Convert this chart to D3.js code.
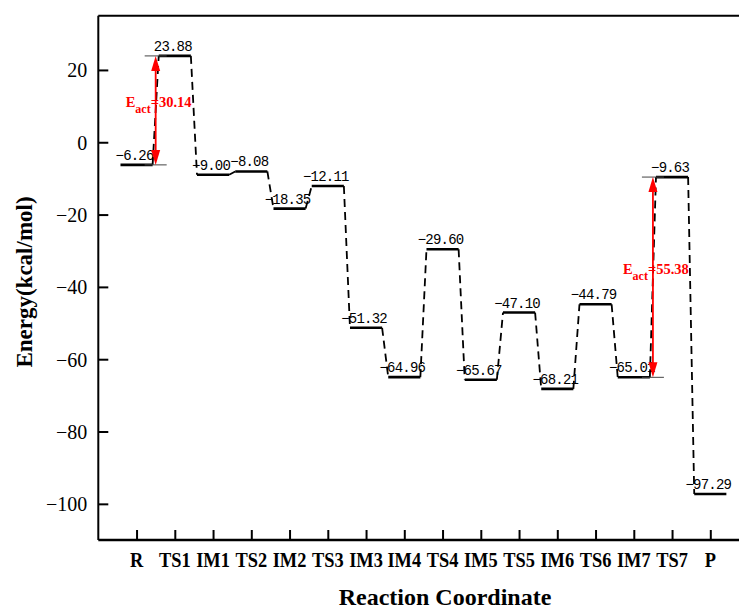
<!DOCTYPE html>
<html>
<head>
<meta charset="utf-8">
<script src="https://cdn.jsdelivr.net/npm/d3@7"></script>
<style>
    body { margin: 0; background: #fff; }
    svg { display: block; }
</style>
</head>
<body>
<div id="viz"></div>
<script>
/*##############################
#       Chart data             #
###############################*/
var states = ["R", "TS1", "IM1", "TS2", "IM2", "TS3", "IM3", "IM4", "TS4", "IM5", "TS5", "IM6", "TS6", "IM7", "TS7", "P"];
var energies = [-6.26, 23.88, -9.00, -8.08, -18.35, -12.11, -51.32, -64.96, -29.60, -65.67, -47.10, -68.21, -44.79, -65.01, -9.63, -97.29];
var energyLabels = ["\u22126.26", "23.88", "\u22129.00", "\u22128.08", "\u221218.35", "\u221212.11", "\u221251.32", "\u221264.96",
                    "\u221229.60", "\u221265.67", "\u221247.10", "\u221268.21", "\u221244.79", "\u221265.01", "\u22129.63", "\u221297.29"];
var yTicks = [-100, -80, -60, -40, -20, 0, 20];

// activation barriers: from state -> to state
var barrierFrom = ["R", "IM7"];
var barrierTo = ["TS1", "TS7"];
var barrierValues = ["30.14", "55.38"];

/*##############################
#       Drawing                #
###############################*/
var width = 739, height = 610;
var plotLeft = 98.3, plotTop = 15.7, plotBottom = 540;
var halfLevel = 0.42;   // half width of a level bar, in state units

var svg = d3.select("#viz").append("svg")
    .attr("width", width)
    .attr("height", height)
    .style("background-color", "#fff");

var x = d3.scaleLinear()
    .domain([-1, 16])
    .range([plotLeft, plotLeft + 17 * 38.25]);

var y = d3.scaleLinear()
    .domain([-110, 35])
    .range([plotBottom, plotTop]);

// frame: top line (right side runs off the picture)
svg.append("line")
    .attr("x1", plotLeft).attr("x2", width)
    .attr("y1", y(35)).attr("y2", y(35))
    .attr("stroke", "#000").attr("stroke-width", 2);

// Y axis
var yAxis = svg.append("g")
    .attr("transform", "translate(" + plotLeft + ",0)")
    .call(d3.axisLeft(y).tickValues(yTicks).tickSizeInner(-10).tickSizeOuter(0)
        .tickFormat(function (d) { return d < 0 ? "\u2212" + Math.abs(d) : d; }));
yAxis.select(".domain").attr("stroke-width", 2).attr("d", "M0," + plotTop + "V" + plotBottom);
yAxis.selectAll(".tick line").attr("stroke-width", 2);
yAxis.selectAll(".tick text")
    .attr("x", -11)
    .attr("dy", "0.34em")
    .attr("font-family", "'Liberation Serif', 'Times New Roman', serif")
    .attr("font-size", "20px")
    .attr("fill", "#000");

// X axis
var xAxis = svg.append("g")
    .attr("transform", "translate(0," + plotBottom + ")")
    .call(d3.axisBottom(x).tickValues(d3.range(states.length)).tickSizeInner(-10).tickSizeOuter(0)
        .tickFormat(function (d) { return ""; }));
xAxis.select(".domain").attr("stroke-width", 2.5).attr("d", "M" + plotLeft + ",0H" + width);
xAxis.selectAll(".tick line").attr("stroke-width", 2);

svg.append("g").selectAll("text")
    .data(states)
    .enter()
    .append("text")
        .attr("transform", function (d, i) { return "translate(" + x(i) + ",567) scale(0.92,1)"; })
        .attr("text-anchor", "middle")
        .attr("font-family", "'Liberation Serif', 'Times New Roman', serif")
        .attr("font-weight", "bold")
        .attr("font-size", "20px")
        .text(function (d) { return d; });

// axis titles
svg.append("text")
    .attr("x", 445).attr("y", 605)
    .attr("text-anchor", "middle")
    .attr("font-family", "'Liberation Serif', 'Times New Roman', serif")
    .attr("font-weight", "bold")
    .attr("font-size", "24px")
    .text("Reaction Coordinate");

svg.append("text")
    .attr("transform", "translate(32,282) rotate(-90)")
    .attr("text-anchor", "middle")
    .attr("font-family", "'Liberation Serif', 'Times New Roman', serif")
    .attr("font-weight", "bold")
    .attr("font-size", "23px")
    .text("Energy(kcal/mol)");

// dashed connectors between levels
var links = d3.range(states.length - 1);
svg.append("g").selectAll("line")
    .data(links)
    .enter()
    .append("line")
        .attr("x1", function (i) { return x(i + halfLevel); })
        .attr("y1", function (i) { return y(energies[i]); })
        .attr("x2", function (i) { return x(i + 1 - halfLevel); })
        .attr("y2", function (i) { return y(energies[i + 1]); })
        .attr("stroke", "#000")
        .attr("stroke-width", 1.8)
        .attr("stroke-dasharray", "8,5");

// energy levels
svg.append("g").selectAll("line")
    .data(energies)
    .enter()
    .append("line")
        .attr("x1", function (d, i) { return x(i - halfLevel); })
        .attr("x2", function (d, i) { return x(i + halfLevel); })
        .attr("y1", function (d) { return y(d); })
        .attr("y2", function (d) { return y(d); })
        .attr("stroke", "#000")
        .attr("stroke-width", 2.6);

// value labels
svg.append("g").selectAll("text")
    .data(energyLabels)
    .enter()
    .append("text")
        .attr("x", function (d, i) { return x(i) - 2; })
        .attr("y", function (d, i) { return y(energies[i]) - 5; })
        .attr("text-anchor", "middle")
        .attr("font-family", "'Liberation Mono', 'Courier New', monospace")
        .attr("font-size", "14px")
        .attr("letter-spacing", "-0.8px")
        .attr("fill", "#000")
        .text(function (d) { return d; });

/*##############################
#       Activation arrows      #
###############################*/
barrierFrom.forEach(function (from, k) {
    var i0 = states.indexOf(from);
    var i1 = states.indexOf(barrierTo[k]);
    var ax = x((i0 + i1) / 2);
    var yLow = y(energies[i0]);
    var yHigh = y(energies[i1]);
    var g = svg.append("g");

    // thin guide lines at both levels
    [yLow, yHigh].forEach(function (yy) {
        g.append("line")
            .attr("x1", ax - 11).attr("x2", ax + 11)
            .attr("y1", yy).attr("y2", yy)
            .attr("stroke", "#444").attr("stroke-width", 1);
    });

    g.append("line")
        .attr("x1", ax).attr("x2", ax)
        .attr("y1", yHigh + 12).attr("y2", yLow - 12)
        .attr("stroke", "#ff0000").attr("stroke-width", 1.8);

    // arrow heads (one at each end)
    g.append("path")
        .attr("d", "M" + ax + "," + yHigh + "L" + (ax - 4.5) + "," + (yHigh + 15) + "L" + (ax + 4.5) + "," + (yHigh + 15) + "Z")
        .attr("fill", "#ff0000");
    g.append("path")
        .attr("d", "M" + ax + "," + yLow + "L" + (ax - 4.5) + "," + (yLow - 15) + "L" + (ax + 4.5) + "," + (yLow - 15) + "Z")
        .attr("fill", "#ff0000");

    var label = g.append("text")
        .attr("x", ax - 30)
        .attr("y", (yLow + yHigh) / 2 - 3.5)
        .attr("font-family", "'Liberation Serif', 'Times New Roman', serif")
        .attr("font-weight", "bold")
        .attr("font-size", "14.5px")
        .attr("fill", "#ff0000");
    label.append("tspan").text("E");
    label.append("tspan").attr("dy", 6).attr("font-size", "12px").text("act");
    label.append("tspan").attr("dy", -6).text("=" + barrierValues[k]);
});
</script>
</body>
</html>
